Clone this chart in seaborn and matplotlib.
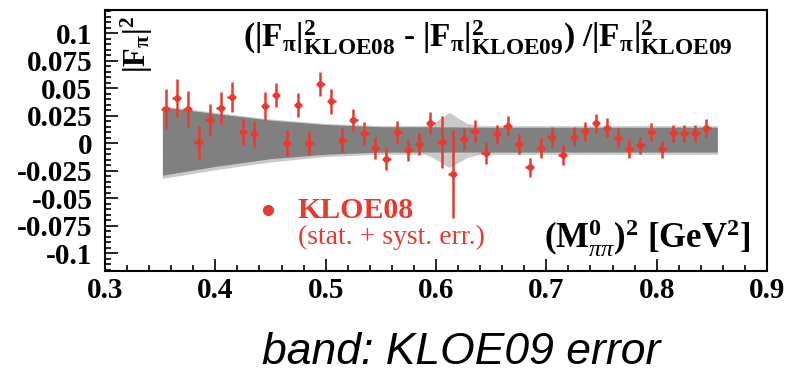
import numpy as np
import pandas as pd

import matplotlib
matplotlib.use("Agg")
import matplotlib.pyplot as plt
from matplotlib.ticker import FixedLocator, MultipleLocator
import seaborn as sns

# KLOE08 points: relative difference to KLOE09
mass2 = [0.355, 0.365, 0.375, 0.385, 0.395, 0.405, 0.415, 0.425, 0.435, 0.445,
         0.455, 0.465, 0.475, 0.485, 0.495, 0.505, 0.515, 0.525, 0.535, 0.545,
         0.555, 0.565, 0.575, 0.585, 0.595, 0.605, 0.615, 0.625, 0.635, 0.645,
         0.655, 0.665, 0.675, 0.685, 0.695, 0.705, 0.715, 0.725, 0.735, 0.745,
         0.755, 0.765, 0.775, 0.785, 0.795, 0.805, 0.815, 0.825, 0.835, 0.845]
rel_diff = [0.031, 0.041, 0.031, 0.001, 0.021, 0.032, 0.042, 0.010, 0.008, 0.034,
            0.044, 0.000, 0.035, 0.000, 0.054, 0.038, 0.003, 0.021, 0.009, -0.004,
            -0.0145, 0.010, -0.006, -0.001, 0.0185, 0.001, -0.028, 0.004, 0.011, -0.009,
            0.008, 0.016, -0.001, -0.022, -0.004, 0.006, -0.011, 0.006, 0.011, 0.018,
            0.014, 0.005, -0.005, -0.002, 0.010, -0.0055, 0.009, 0.009, 0.009, 0.014]
rel_err = [0.018, 0.017, 0.016, 0.015, 0.0145, 0.0145, 0.014, 0.012, 0.012, 0.0125,
           0.011, 0.012, 0.011, 0.011, 0.011, 0.011, 0.011, 0.010, 0.0105, 0.010,
           0.010, 0.010, 0.010, 0.010, 0.010, 0.0235, 0.040, 0.010, 0.010, 0.010,
           0.009, 0.009, 0.009, 0.009, 0.009, 0.009, 0.009, 0.0085, 0.0085, 0.0085,
           0.0085, 0.0085, 0.008, 0.008, 0.008, 0.008, 0.008, 0.008, 0.008, 0.008]
bin_half = 0.004

# KLOE09 error band (dark) and outer band (light)
band_x = [0.352, 0.40, 0.45, 0.50, 0.55, 0.60, 0.65, 0.70, 0.75, 0.80, 0.855]
band_hi = [0.033, 0.027, 0.021, 0.017, 0.015, 0.015, 0.0145, 0.0145, 0.0145, 0.0145, 0.0145]
band_lo = [-0.029, -0.021, -0.014, -0.010, -0.008, -0.008, -0.008, -0.008, -0.008, -0.008, -0.008]

outer_x = [0.352, 0.40, 0.45, 0.50, 0.55, 0.59, 0.597, 0.612, 0.628, 0.64, 0.70, 0.75, 0.80, 0.855]
outer_hi = [0.034, 0.028, 0.022, 0.018, 0.016, 0.016, 0.018, 0.028, 0.018, 0.016, 0.016, 0.016, 0.016, 0.016]
outer_lo = [-0.032, -0.024, -0.017, -0.012, -0.010, -0.010, -0.013, -0.022, -0.013, -0.010, -0.010, -0.010, -0.010, -0.010]

x_ticks = [0.3, 0.4, 0.5, 0.6, 0.7, 0.8, 0.9]
x_labels = ["0.3", "0.4", "0.5", "0.6", "0.7", "0.8", "0.9"]
y_ticks = [0.1, 0.075, 0.05, 0.025, 0.0, -0.025, -0.05, -0.075, -0.1]
y_labels = ["0.1", "0.075", "0.05", "0.025", "0", "-0.025", "-0.05", "-0.075", "-0.1"]

RED = "#ea3a2e"

sns.set_theme(style="ticks")
plt.rcParams["font.family"] = ["Liberation Serif", "DejaVu Serif"]
plt.rcParams["mathtext.fontset"] = "custom"
plt.rcParams["mathtext.rm"] = "Liberation Serif"
plt.rcParams["mathtext.it"] = "Liberation Serif:italic"
plt.rcParams["mathtext.bf"] = "Liberation Serif:bold"
plt.rcParams["text.color"] = "black"
plt.rcParams["xtick.color"] = "black"
plt.rcParams["ytick.color"] = "black"

df = pd.DataFrame({"m2": mass2, "d": rel_diff, "e": rel_err})

fig = plt.figure(figsize=(7.86, 3.78), dpi=100)
ax = fig.add_axes([105 / 786, 1 - 271 / 378, 662 / 786, 261 / 378])

ax.fill_between(outer_x, outer_lo, outer_hi, color="#c9c9c9", lw=0, zorder=1)
ax.fill_between(band_x, band_lo, band_hi, color="#808080", lw=0, zorder=2)

ax.errorbar(df["m2"], df["d"], yerr=df["e"], xerr=bin_half, fmt="none",
            ecolor=RED, elinewidth=1.8, capsize=0, zorder=3)
sns.scatterplot(data=df, x="m2", y="d", color=RED, s=24, edgecolor=RED,
                linewidth=0, ax=ax, zorder=4)

ax.set_xlim(0.3, 0.9)
ax.set_ylim(-0.116, 0.121)
ax.xaxis.set_major_locator(FixedLocator(x_ticks))
ax.set_xticklabels(x_labels)
ax.xaxis.set_minor_locator(MultipleLocator(0.02))
ax.yaxis.set_major_locator(FixedLocator(y_ticks))
ax.set_yticklabels(y_labels)
ax.yaxis.set_minor_locator(MultipleLocator(0.005))
ax.set_xlabel("")
ax.set_ylabel("")

for lab in ax.get_xticklabels() + ax.get_yticklabels():
    lab.set_fontweight("bold")
    lab.set_fontsize(21)
    lab.set_color("black")
ax.tick_params(which="both", direction="in", color="black", width=1.2,
               top=False, right=False)
ax.tick_params(which="major", length=9)
ax.tick_params(which="minor", length=4.5)
ax.tick_params(axis="y", pad=9)
ax.tick_params(axis="x", pad=4)
for sp in ax.spines.values():
    sp.set_visible(True)
    sp.set_linewidth(1.5)
    sp.set_color("black")

# plain hyphen (U+2010) instead of the mathtext minus sign
ax.text(0.9486, 0.893,
        "$\\mathbf{(|F}_{\\mathbf{\\pi}}\\mathbf{|}^{\\mathbf{2}}_{\\mathbf{KLOE08}}"
        "\\mathbf{\\ \u2010\\ |F}_{\\mathbf{\\pi}}\\mathbf{|}^{\\mathbf{2}}_{\\mathbf{KLOE09}}"
        "\\mathbf{)\\ /|F}_{\\mathbf{\\pi}}\\mathbf{|}^{\\mathbf{2}}_{\\mathbf{KLOE09}}$",
        transform=ax.transAxes, ha="right", va="center", fontsize=24)
ax.text(0.048, 0.975, r"$\mathbf{|F}_{\mathbf{\pi}}\mathbf{|}^{\mathbf{2}}$",
        transform=ax.transAxes, ha="center", va="top", rotation=90, fontsize=22)
ax.text(0.975, 0.045,
        r"$\mathbf{(M}^{\mathbf{0}}_{\pi\pi}\mathbf{)}^{\mathbf{2}}\ \mathbf{[GeV}^{\mathbf{2}}\mathbf{]}$",
        transform=ax.transAxes, ha="right", va="bottom", fontsize=25)

ax.plot([0.246], [0.232], "o", color=RED, ms=7, transform=ax.transAxes,
        clip_on=False)
ax.text(0.2915, 0.232, "KLOE08", transform=ax.transAxes, ha="left",
        va="center", fontsize=21.5, fontweight="bold", color=RED)
ax.text(0.2915, 0.13, "(stat. + syst. err.)", transform=ax.transAxes,
        ha="left", va="center", fontsize=20, color=RED)

fig.text(461 / 786, 1 - 352 / 378, "band: KLOE09 error", ha="center",
         va="center", fontsize=32, style="italic", color="black",
         family=["Liberation Sans", "DejaVu Sans"])

fig.savefig("out.png", dpi=100)
plt.close(fig)
